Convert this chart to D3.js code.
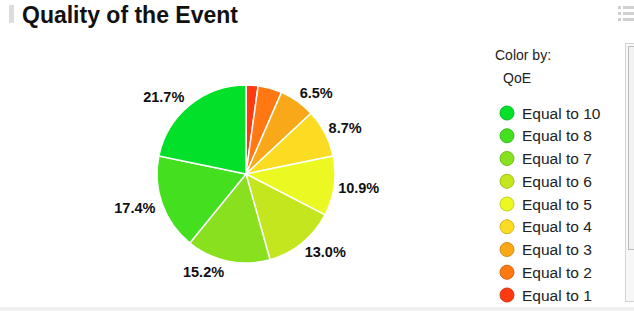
<!DOCTYPE html>
<html>
<head>
<meta charset="utf-8">
<script src="https://cdn.jsdelivr.net/npm/d3@7"></script>
<style>
  body { margin: 0; background: #fff; }
  svg { display: block; font-family: "Liberation Sans", Arial, sans-serif; }
</style>
</head>
<body>
<div id="chart"></div>
<script>
// data, clockwise from 12 o'clock
var categories = ["Equal to 1", "Equal to 2", "Equal to 3", "Equal to 4", "Equal to 5",
                  "Equal to 6", "Equal to 7", "Equal to 8", "Equal to 10"];
var counts = [1, 2, 3, 4, 5, 6, 7, 8, 10];
var colors = ["#ff3a10", "#ff7812", "#f8a818", "#fcdc22", "#ecf822",
              "#c4e61e", "#88e01e", "#44e020", "#02e02a"];
// legend runs top to bottom from the highest score
var legendOrder = ["Equal to 10", "Equal to 8", "Equal to 7", "Equal to 6", "Equal to 5",
                   "Equal to 4", "Equal to 3", "Equal to 2", "Equal to 1"];

var svgWidth = 634;
var svgHeight = 311;

var svg = d3.select("#chart")
    .append("svg")
    .attr("width", svgWidth)
    .attr("height", svgHeight);

// title + grey marker
svg.append("rect")
    .attr("x", 9).attr("y", 5)
    .attr("width", 5).attr("height", 18)
    .attr("fill", "#dcdcdc");

svg.append("text")
    .attr("x", 22).attr("y", 23)
    .attr("font-size", 23)
    .attr("font-weight", "bold")
    .attr("fill", "#111")
    .text("Quality of the Event");

// menu icon top right
[7, 13, 19].forEach(function (y) {
    svg.append("rect").attr("x", 618).attr("y", y - 1).attr("width", 3).attr("height", 3).attr("fill", "#d0d0d0");
    svg.append("rect").attr("x", 623).attr("y", y - 1).attr("width", 11).attr("height", 3).attr("fill", "#d0d0d0");
});

// bottom strip
svg.append("rect")
    .attr("x", 0).attr("y", 307)
    .attr("width", svgWidth).attr("height", 4)
    .attr("fill", "#f0f0f0");

// scroll panel on the right
svg.append("rect")
    .attr("x", 625.5).attr("y", 43.5)
    .attr("width", 12).attr("height", 258)
    .attr("fill", "#f7f7f7")
    .attr("stroke", "#d4d4d4");
svg.append("rect")
    .attr("x", 628.5).attr("y", 46.5)
    .attr("width", 10).attr("height", 203)
    .attr("fill", "#f2f2f2")
    .attr("stroke", "#bdbdbd");

// pie
var cx = 246, cy = 174, radius = 89;
var total = d3.sum(counts);

var pie = d3.pie()
    .sort(null)
    .value(function (d) { return d; });

var arc = d3.arc()
    .innerRadius(0)
    .outerRadius(radius);

var arcs = pie(counts);

var pieGroup = svg.append("g")
    .attr("transform", `translate(${cx}, ${cy})`);

pieGroup.selectAll("path")
    .data(arcs)
    .enter()
    .append("path")
    .attr("d", arc)
    .attr("fill", function (d, i) { return colors[i]; })
    .attr("stroke", "#fff")
    .attr("stroke-width", 1.5);

// outside labels, only for slices of 5% and more
var labelR = 93;
pieGroup.selectAll("text.pct")
    .data(arcs.filter(function (d) { return d.data / total >= 0.05; }))
    .enter()
    .append("text")
    .attr("class", "pct")
    .attr("x", function (d) {
        var a = (d.startAngle + d.endAngle) / 2;
        var x = Math.sin(a) * labelR;
        return x < 0 ? x - 3 : x;
    })
    .attr("y", function (d) {
        var a = (d.startAngle + d.endAngle) / 2;
        return -Math.cos(a) * labelR - Math.cos(a) * 7;
    })
    .attr("dy", "0.36em")
    .attr("text-anchor", function (d) {
        var a = (d.startAngle + d.endAngle) / 2;
        return Math.sin(a) < 0 ? "end" : "start";
    })
    .attr("font-size", 14.5)
    .attr("font-weight", "bold")
    .attr("fill", "#111")
    .text(function (d) { return (d.data / total * 100).toFixed(1) + "%"; });

// legend
svg.append("text")
    .attr("x", 495).attr("y", 60)
    .attr("font-size", 14)
    .attr("fill", "#222")
    .text("Color by:");

svg.append("text")
    .attr("x", 503).attr("y", 83)
    .attr("font-size", 14)
    .attr("fill", "#222")
    .text("QoE");

var yLegend = d3.scalePoint()
    .domain(legendOrder)
    .range([113, 295]);

var legend = svg.append("g");

var items = legend.selectAll("g")
    .data(legendOrder)
    .enter()
    .append("g")
    .attr("transform", function (d) { return `translate(507, ${yLegend(d)})`; });

items.append("circle")
    .attr("r", 7)
    .attr("fill", function (d) { return colors[categories.indexOf(d)]; })
    .attr("stroke", function (d) { return d3.color(colors[categories.indexOf(d)]).darker(0.5); })
    .attr("stroke-width", 1);

items.append("text")
    .attr("x", 15)
    .attr("dy", "0.36em")
    .attr("font-size", 15.5)
    .attr("fill", "#222")
    .text(function (d) { return d; });
</script>
</body>
</html>
